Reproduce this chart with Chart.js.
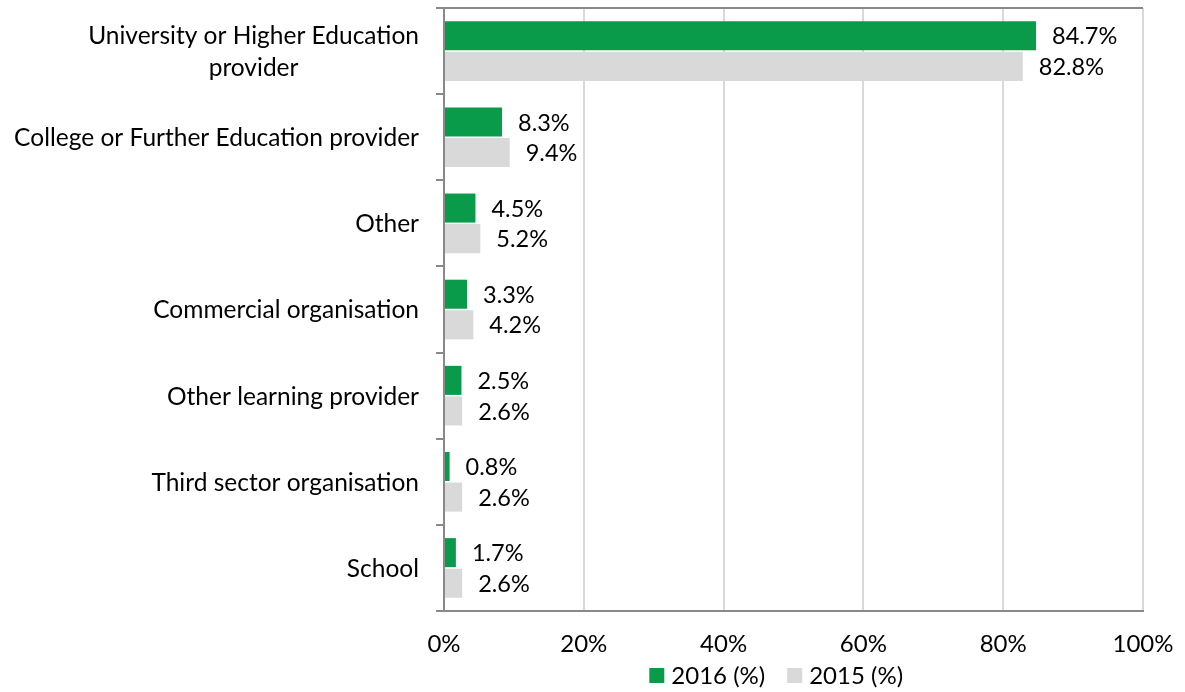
<!DOCTYPE html>
<html lang="en">
<head>
  <meta charset="UTF-8">
  <title>Provider type</title>
  <script src="https://cdn.jsdelivr.net/npm/chart.js"></script>
  <style>
    html, body { margin: 0; padding: 0; background: #fff; }
    #wrap { width: 1185px; height: 692px; position: relative; }
  </style>
</head>
<body>
  <div id="wrap"><canvas id="chart"></canvas></div>

  <script>
    const categories = [
      ['University or Higher Education', 'provider'],
      'College or Further Education provider',
      'Other',
      'Commercial organisation',
      'Other learning provider',
      'Third sector organisation',
      'School'
    ];
    const values2016 = [84.7, 8.3, 4.5, 3.3, 2.5, 0.8, 1.7];
    const values2015 = [82.8, 9.4, 5.2, 4.2, 2.6, 2.6, 2.6];
    const xTicks = [0, 20, 40, 60, 80, 100];

    const FONT = 'Lato';
    const FSIZE = 24;
    const AXIS_GREY = '#898989';

    // value labels to the right of each bar
    const barLabels = {
      id: 'barLabels',
      afterDatasetsDraw(chart) {
        const ctx = chart.ctx;
        ctx.save();
        ctx.font = '23.5px ' + FONT;
        ctx.fillStyle = '#000';
        ctx.textAlign = 'left';
        ctx.textBaseline = 'middle';
        chart.data.datasets.forEach((ds, i) => {
          chart.getDatasetMeta(i).data.forEach((bar, j) => {
            ctx.fillText(ds.data[j].toFixed(1) + '%', bar.x + 16, bar.y + 1);
          });
        });
        ctx.restore();
      }
    };

    // category names (block centred, right-aligned to the axis), top frame, legend
    const extras = {
      id: 'extras',
      afterDraw(chart) {
        const ctx = chart.ctx;
        const y = chart.scales.y;
        const a = chart.chartArea;
        ctx.save();
        ctx.font = '24.5px ' + FONT;
        ctx.fillStyle = '#000';
        ctx.textAlign = 'center';
        ctx.textBaseline = 'middle';
        const right = a.left - 25;
        categories.forEach((lab, i) => {
          const lines = Array.isArray(lab) ? lab : [lab];
          const w = Math.max(...lines.map(l => ctx.measureText(l).width));
          const cy = y.getPixelForValue(i);
          const lh = 32;
          lines.forEach((l, k) => {
            ctx.fillText(l, right - w / 2, cy + 1 + (k - (lines.length - 1) / 2) * lh);
          });
        });

        ctx.strokeStyle = AXIS_GREY;
        ctx.lineWidth = 2;
        ctx.beginPath();
        ctx.moveTo(a.left - 8, a.top);
        ctx.lineTo(a.right, a.top);
        ctx.stroke();

        // legend
        ctx.font = FSIZE + 'px ' + FONT;
        ctx.textAlign = 'left';
        let lx = chart.scales.x.getPixelForValue(29.8) - 3;
        const ly = a.bottom + 64;
        chart.data.datasets.forEach(ds => {
          ctx.fillStyle = ds.backgroundColor;
          ctx.fillRect(lx, ly - 7, 15, 15);
          ctx.fillStyle = '#000';
          ctx.fillText(ds.label, lx + 22, ly + 1);
          lx += 22 + ctx.measureText(ds.label).width + 22;
        });
        ctx.restore();
      }
    };

    new Chart(document.getElementById('chart'), {
      type: 'bar',
      data: {
        labels: categories,
        datasets: [
          { label: '2016 (%)', data: values2016, backgroundColor: '#0a9b4a' },
          { label: '2015 (%)', data: values2015, backgroundColor: '#d9d9d9' }
        ]
      },
      options: {
        indexAxis: 'y',
        responsive: true,
        maintainAspectRatio: false,
        animation: false,
        categoryPercentage: 0.71,
        barPercentage: 0.95,
        layout: { padding: { top: 8, right: 42, left: 0, bottom: 30 } },
        scales: {
          x: {
            min: 0,
            max: 100,
            afterBuildTicks: s => { s.ticks = xTicks.map(v => ({ value: v })); },
            afterFit: s => { s.height = 51; s.paddingLeft = 0; s.paddingRight = 0; },
            grid: { color: '#d9d9d9', lineWidth: 2, drawTicks: false },
            border: { color: AXIS_GREY, width: 2 },
            ticks: {
              color: '#000',
              padding: 19,
              font: { family: FONT, size: FSIZE },
              callback: v => v + '%'
            }
          },
          y: {
            afterFit: s => { s.width = 444; },
            grid: { drawOnChartArea: false, color: AXIS_GREY, lineWidth: 2, tickLength: 8, offset: true },
            border: { color: AXIS_GREY, width: 2 },
            ticks: { display: false }
          }
        },
        plugins: {
          legend: { display: false },
          tooltip: { enabled: false }
        }
      },
      plugins: [barLabels, extras]
    });
  </script>
</body>
</html>
